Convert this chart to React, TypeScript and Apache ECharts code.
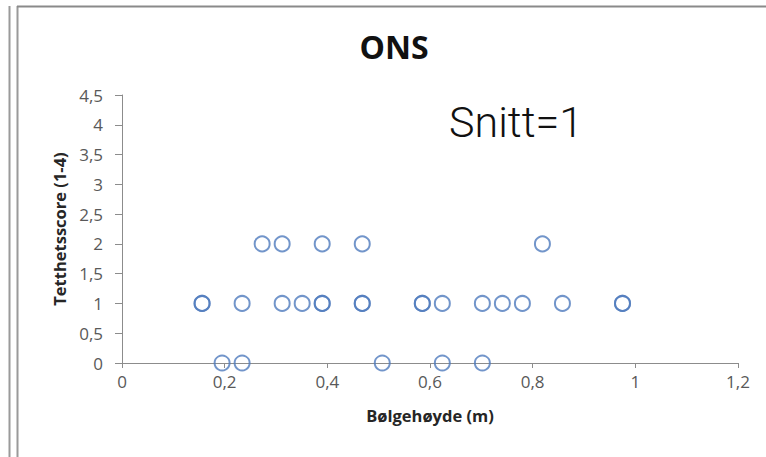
import React, { useEffect, useRef } from "react";
import * as echarts from "echarts";

const chartTitle = "ONS";
const noteText = "Snitt=1";
const xAxisTitle = "Bølgehøyde (m)";
const yAxisTitle = "Tetthetsscore (1-4)";

// Bølgehøyde (m)
const waveHeight: number[] = [
  0.195, 0.234, 0.507, 0.624, 0.702,
  0.156, 0.156, 0.234, 0.312, 0.351, 0.39, 0.39, 0.468, 0.468, 0.585, 0.585,
  0.624, 0.702, 0.741, 0.78, 0.858, 0.975, 0.975,
  0.273, 0.312, 0.39, 0.468, 0.819,
];
// Tetthetsscore (1-4)
const densityScore: number[] = [
  0, 0, 0, 0, 0,
  1, 1, 1, 1, 1, 1, 1, 1, 1, 1, 1,
  1, 1, 1, 1, 1, 1, 1,
  2, 2, 2, 2, 2,
];

const xMin = 0;
const xMax = 1.2;
const xStep = 0.2;
const yMin = 0;
const yMax = 4.5;
const yStep = 0.5;

const fmt = (v: number) => {
  const r = Math.round(v * 10) / 10;
  return String(r).replace(".", ",");
};

export default function App() {
  const ref = useRef<HTMLDivElement>(null);
  useEffect(() => {
    if (!ref.current) return;
    const chart = echarts.init(ref.current, null, { renderer: "svg" });
    const points = waveHeight.map((x, i) => [x, densityScore[i]]);
    chart.setOption({
      animation: false,
      backgroundColor: "#ffffff",
      grid: { left: 122, right: 28, top: 95, bottom: 94, containLabel: false },
      xAxis: {
        type: "value",
        min: xMin,
        max: xMax,
        interval: xStep,
        name: xAxisTitle,
        nameLocation: "middle",
        nameGap: 44,
        nameTextStyle: {
          fontFamily: "Open Sans",
          fontWeight: "bold",
          fontSize: 16.5,
          color: "#262626",
        },
        axisLine: { lineStyle: { color: "#8c8c8c", width: 1 } },
        axisTick: { show: true, length: 5, lineStyle: { color: "#8c8c8c" } },
        axisLabel: {
          formatter: fmt,
          fontFamily: "Open Sans",
          fontSize: 17,
          color: "#595959",
          margin: 10,
        },
        splitLine: { show: false },
      },
      yAxis: {
        type: "value",
        min: yMin,
        max: yMax,
        interval: yStep,
        name: yAxisTitle,
        nameLocation: "middle",
        nameGap: 53,
        nameRotate: 90,
        nameTextStyle: {
          fontFamily: "Open Sans",
          fontWeight: "bold",
          fontSize: 16.5,
          color: "#262626",
        },
        axisLine: { show: true, lineStyle: { color: "#8c8c8c", width: 1 } },
        axisTick: { show: true, length: 7, lineStyle: { color: "#8c8c8c" } },
        axisLabel: {
          formatter: fmt,
          fontFamily: "Open Sans",
          fontSize: 17,
          color: "#595959",
          margin: 19,
        },
        splitLine: { show: false },
      },
      series: [
        {
          type: "scatter",
          data: points,
          symbol: "circle",
          symbolSize: 15,
          itemStyle: {
            color: "rgba(255,255,255,0)",
            borderColor: "#4f7bbd",
            borderWidth: 2,
          },
        },
      ],
      graphic: [
        {
          type: "line",
          shape: { x1: 9.5, y1: 6, x2: 9.5, y2: 457 },
          style: { stroke: "#9a9a9a", lineWidth: 2 },
        },
        {
          type: "line",
          shape: { x1: 17.5, y1: 6, x2: 17.5, y2: 457 },
          style: { stroke: "#9a9a9a", lineWidth: 2 },
        },
        {
          type: "line",
          shape: { x1: 17, y1: 6.5, x2: 766, y2: 6.5 },
          style: { stroke: "#8a8a8a", lineWidth: 2 },
        },
        {
          type: "text",
          x: 394,
          y: 46,
          style: {
            text: chartTitle,
            font: "bold 32px 'Open Sans'",
            fill: "#111111",
            align: "center",
            verticalAlign: "middle",
          },
        },
        {
          type: "text",
          x: 449,
          y: 122,
          style: {
            text: noteText,
            font: "300 43px Roboto",
            fill: "#111111",
            align: "left",
            verticalAlign: "middle",
          },
        },
      ],
    });
    return () => chart.dispose();
  }, []);
  return (
    <div
      ref={ref}
      style={{ position: "fixed", left: 0, top: 0, width: 766, height: 457 }}
    />
  );
}
